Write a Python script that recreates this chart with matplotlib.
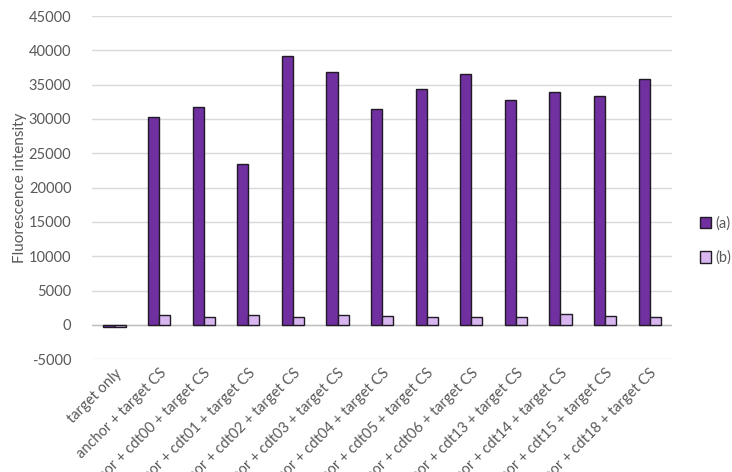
import numpy as np
import matplotlib.pyplot as plt

plt.rcParams['font.family'] = ['Lato', 'DejaVu Sans']

# samples and measured fluorescence
categories = ['target only', 'anchor + target CS', 'anchor + cdt00 + target CS',
              'anchor + cdt01 + target CS', 'anchor + cdt02 + target CS',
              'anchor + cdt03 + target CS', 'anchor + cdt04 + target CS',
              'anchor + cdt05 + target CS', 'anchor + cdt06 + target CS',
              'anchor + cdt13 + target CS', 'anchor + cdt14 + target CS',
              'anchor + cdt15 + target CS', 'anchor + cdt18 + target CS']
series_a = [-250, 30300, 31800, 23400, 39200, 36800, 31400,
            34400, 36600, 32700, 34000, 33300, 35800]
series_b = [-250, 1400, 1100, 1400, 1100, 1400, 1300,
            1150, 1150, 1150, 1550, 1350, 1150]
yticks = list(range(-5000, 45001, 5000))

grey = '#595959'
fig = plt.figure(figsize=(7.32, 4.72), dpi=100)
ax = fig.add_axes([0.126, 0.239, 0.792, 0.727])

x = np.arange(len(categories))
w = 0.25
ax.bar(x - w / 2, series_a, w, color='#7030A0', edgecolor='#1f1a24',
       linewidth=1, label='(a)', zorder=3)
ax.bar(x + w / 2, series_b, w, color='#D8B6F0', edgecolor='#1f1a24',
       linewidth=1, label='(b)', zorder=3)

ax.set_xlim(-0.5, len(categories) - 0.5)
ax.set_ylim(-5000, 45000)
ax.set_yticks(yticks)
ax.set_yticklabels([str(t) for t in yticks])
ax.yaxis.grid(True, color='#d9d9d9', linewidth=1)
ax.axhline(0, color='#bfbfbf', linewidth=1, zorder=2)
for s in ax.spines.values():
    s.set_visible(False)
ax.tick_params(length=0, colors=grey, labelsize=10.5)
ax.tick_params(axis='y', pad=15)

ax.set_xticks(x)
ax.set_xticklabels(categories, rotation=45, ha='right', rotation_mode='anchor')
ax.tick_params(axis='x', pad=5)
ax.set_ylabel('Fluorescence intensity', color=grey, fontsize=11, labelpad=1)

ax.legend(loc='center left', bbox_to_anchor=(1.025, 0.345), frameon=False,
          fontsize=10.5, labelcolor=grey, handlelength=0.8, handleheight=0.8,
          handletextpad=0.3, labelspacing=1.35)

fig.savefig('out.png', dpi=100)
